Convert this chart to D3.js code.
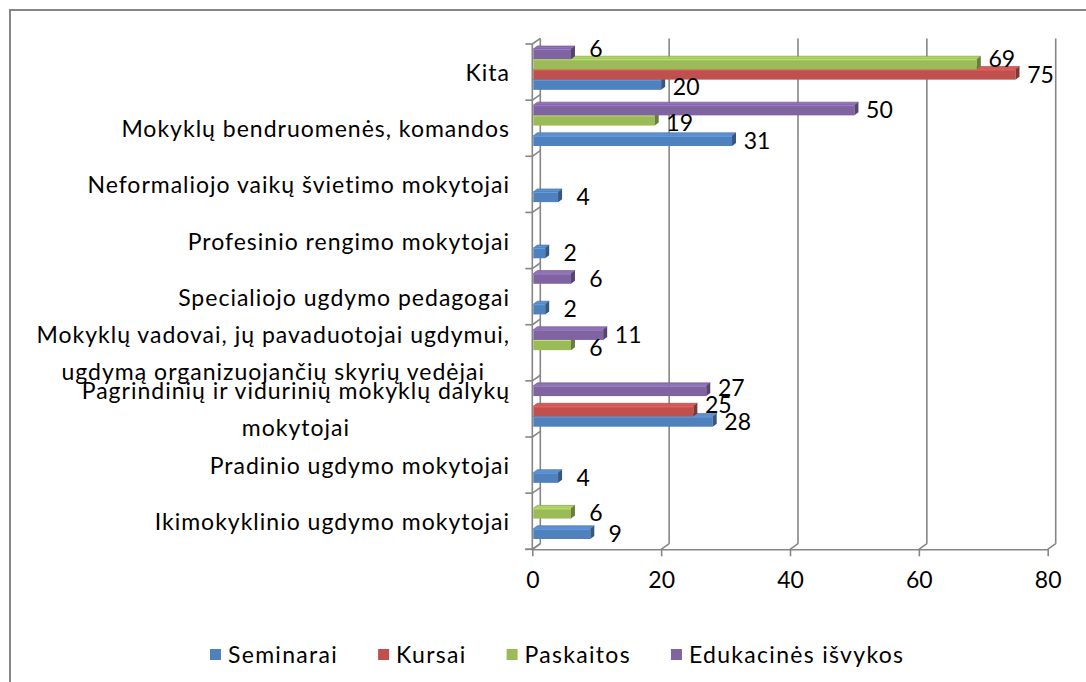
<!DOCTYPE html>
<html>
<head>
<meta charset="utf-8">
<script src="https://cdn.jsdelivr.net/npm/d3@7"></script>
<style>
  body { margin: 0; background: #fff; }
  svg { display: block; font-family: Lato, "Open Sans", sans-serif; }
</style>
</head>
<body>
<svg id="chart" width="1086" height="682"></svg>
<script>
// categories bottom -> top, "|" marks a line break in the axis label
const categories = [
  "Ikimokyklinio ugdymo mokytojai",
  "Pradinio ugdymo mokytojai",
  "Pagrindinių ir vidurinių mokyklų dalykų|mokytojai",
  "Mokyklų vadovai, jų pavaduotojai ugdymui,|ugdymą organizuojančių skyrių vedėjai",
  "Specialiojo ugdymo pedagogai",
  "Profesinio rengimo mokytojai",
  "Neformaliojo vaikų švietimo mokytojai",
  "Mokyklų bendruomenės, komandos",
  "Kita"
];
const seriesNames = ["Seminarai", "Kursai", "Paskaitos", "Edukacinės išvykos"];
const seminarai  = [9, 4, 28, 0, 2, 2, 4, 31, 20];
const kursai     = [0, 0, 25, 0, 0, 0, 0, 0, 75];
const paskaitos  = [6, 0, 0, 6, 0, 0, 0, 19, 69];
const edukacines = [0, 0, 27, 11, 6, 0, 0, 50, 6];
const xTicks = [0, 20, 40, 60, 80];

const seriesValues = [seminarai, kursai, paskaitos, edukacines];
const colors = ["#4F81BD", "#C0504D", "#9BBB59", "#8064A2"];

const W = 1086, H = 682;
const grey = "#868686";
const svg = d3.select("#chart");

// chart frame (runs off the right / bottom of the picture)
svg.append("rect")
  .attr("x", 10).attr("y", 10)
  .attr("width", W + 20).attr("height", H + 20)
  .attr("fill", "#fff")
  .attr("stroke", grey).attr("stroke-width", 2);

const x = d3.scaleLinear().domain([0, 80]).range([532.3, 1047.7]);
const y = d3.scaleBand().domain(categories.slice().reverse()).range([44, 549.3]);
const inner = d3.scaleBand()
  .domain(seriesNames.slice().reverse())
  .range([0, y.bandwidth()])
  .paddingOuter(0.75);

// 3d offsets: walls and bars
const wdx = 8, wdy = 5.6;
const bdx = 4, bdy = 3;
const floorY = y.range()[1];
const topY = y.range()[0];

// back wall gridlines
const grid = svg.append("g").attr("stroke", grey).attr("stroke-width", 1.6).attr("fill", "none");
xTicks.forEach(v => {
  grid.append("line")
    .attr("x1", x(v) + wdx).attr("x2", x(v) + wdx)
    .attr("y1", topY - wdy).attr("y2", floorY - wdy);
  grid.append("line")
    .attr("x1", x(v)).attr("x2", x(v) + wdx)
    .attr("y1", floorY).attr("y2", floorY - wdy);
});

// left side wall + category ticks
const side = svg.append("g").attr("stroke", grey).attr("stroke-width", 1.6).attr("fill", "none");
side.append("line")
  .attr("x1", x(0)).attr("x2", x(0))
  .attr("y1", topY).attr("y2", floorY);
const bounds = d3.range(categories.length + 1).map(i => topY + i * y.step());
bounds.forEach(b => {
  side.append("line").attr("x1", x(0) - 7).attr("x2", x(0)).attr("y1", b).attr("y2", b);
  side.append("line").attr("x1", x(0)).attr("x2", x(0) + wdx).attr("y1", b).attr("y2", b - wdy);
});

// x axis on the front floor edge
const xAxis = svg.append("g")
  .attr("transform", `translate(0,${floorY})`)
  .call(d3.axisBottom(x).tickValues(xTicks).tickSize(7).tickSizeOuter(0).tickPadding(15));
xAxis.select(".domain").attr("stroke", grey).attr("stroke-width", 1.6);
xAxis.selectAll(".tick line").attr("stroke", grey).attr("stroke-width", 1.6);
xAxis.selectAll(".tick text")
  .attr("font-size", 23).attr("fill", "#000")
  .attr("font-family", "Lato, 'Open Sans', sans-serif");
svg.append("line").attr("stroke", grey).attr("stroke-width", 1.6)
  .attr("x1", x(0) - 7).attr("x2", x(0)).attr("y1", floorY).attr("y2", floorY);

// category labels
const labelG = svg.append("g").attr("font-size", 23).attr("letter-spacing", 1.0).attr("fill", "#000");
categories.forEach(c => {
  const lines = c.split("|");
  const cy = y(c) + y.bandwidth() / 2;
  const t = labelG.append("text");
  const spans = lines.map((ln, i) => t.append("tspan").text(ln)
    .attr("y", cy + 9 + (i - (lines.length - 1) / 2) * 37));
  const widths = spans.map(s => s.node().getComputedTextLength());
  const maxW = d3.max(widths);
  const right = 510;
  spans.forEach(s => s.attr("x", right - maxW / 2).attr("text-anchor", "middle"));
});

// bars, drawn bottom series first so the upper bar hides the lower bar's top face
const bars = [];
seriesNames.forEach((s, si) => {
  categories.forEach((c, ci) => {
    const v = seriesValues[si][ci];
    if (v <= 0) return;
    const x0 = x(0) + 1, x1 = x(v);
    const yt = y(c) + inner(s) - 2.65;
    const h = inner.bandwidth();
    bars.push({ s, si, c, v, x0, x1, yt, h });
  });
});

const col = d3.color;
const barG = svg.append("g");
bars.forEach(b => {
  const base = colors[b.si];
  const g = barG.append("g");
  g.append("polygon")
    .attr("points", [[b.x0, b.yt], [b.x0 + bdx, b.yt - bdy], [b.x1 + bdx, b.yt - bdy], [b.x1, b.yt]].join(" "))
    .attr("fill", col(base).brighter(0.35)).attr("stroke", col(base).darker(0.6)).attr("stroke-width", 0.6);
  g.append("rect")
    .attr("x", b.x0).attr("y", b.yt).attr("width", b.x1 - b.x0).attr("height", b.h)
    .attr("fill", base);
  g.append("line")
    .attr("x1", b.x0).attr("x2", b.x1).attr("y1", b.yt + 0.5).attr("y2", b.yt + 0.5)
    .attr("stroke", col(base).brighter(0.6)).attr("stroke-width", 1);
  g.append("polygon")
    .attr("points", [[b.x1, b.yt], [b.x1 + bdx, b.yt - bdy], [b.x1 + bdx, b.yt + b.h - bdy], [b.x1, b.yt + b.h]].join(" "))
    .attr("fill", col(base).darker(1.1));
});

// data labels: right of the bar end, nudged off other bars and labels
const boxes = bars.map(b => ({ x0: b.x0, x1: b.x1 + bdx, y0: b.yt - bdy, y1: b.yt + b.h }));
const hit = (a, b) => a.x0 < b.x1 && a.x1 > b.x0 && a.y0 < b.y1 && a.y1 > b.y0;
const dataG = svg.append("g").attr("font-size", 23).attr("fill", "#000").attr("text-anchor", "middle");
const placed = [];
bars.forEach(b => {
  const cx = b.x1 + 25;
  const t = dataG.append("text").text(b.v).attr("x", cx);
  const w = t.node().getComputedTextLength();
  const cy0 = b.yt + b.h / 2;
  let cy = cy0;
  for (let k = 0; k < 100; k++) {
    const cands = k === 0 ? [cy0] : [cy0 - k * 0.5, cy0 + k * 0.5];
    const ok = cands.find(c => {
      const box = { x0: cx - w / 2, x1: cx + w / 2, y0: c - 7.5, y1: c + 7.5 };
      return !boxes.some(o => hit(box, o)) && !placed.some(o => hit(box, o));
    });
    if (ok !== undefined) { cy = ok; break; }
  }
  placed.push({ x0: cx - w / 2, x1: cx + w / 2, y0: cy - 9, y1: cy + 9 });
  t.attr("y", cy + 8);
});

// legend
const legend = svg.append("g").attr("font-size", 23).attr("letter-spacing", 1.3);
let lx = 210;
const ly = 655;
seriesNames.forEach((s, i) => {
  legend.append("rect").attr("x", lx).attr("y", ly - 6).attr("width", 11).attr("height", 11)
    .attr("fill", colors[i]);
  const t = legend.append("text").attr("x", lx + 18).attr("y", ly + 8).text(s);
  lx += 18 + t.node().getComputedTextLength() + 40;
});
</script>
</body>
</html>
